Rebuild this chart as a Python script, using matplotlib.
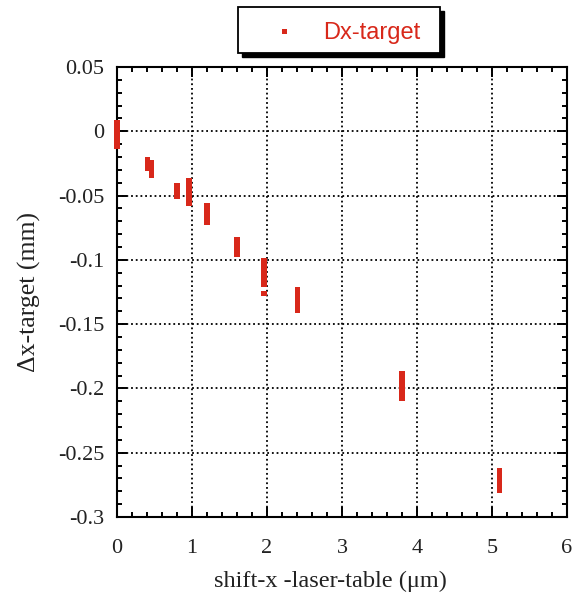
import matplotlib
matplotlib.use("Agg")
import matplotlib.pyplot as plt
from matplotlib.patches import Rectangle
from matplotlib.ticker import MultipleLocator

# Data: each measurement drawn as a vertical bar from y_low to y_high
x_vals = [0.0, 0.405, 0.46, 0.80, 0.96, 1.20, 1.60, 1.96, 1.96, 2.41, 3.80, 5.10]
y_low = [-0.014, -0.031, -0.036, -0.053, -0.058, -0.073, -0.098, -0.121, -0.128, -0.1415, -0.210, -0.2815]
y_high = [0.009, -0.020, -0.0226, -0.040, -0.036, -0.056, -0.082, -0.0988, -0.124, -0.121, -0.1866, -0.262]

x_ticks = [0, 1, 2, 3, 4, 5, 6]
y_ticks = [0.05, 0, -0.05, -0.1, -0.15, -0.2, -0.25, -0.3]
y_tick_labels = ["0.05", "0", "-0.05", "-0.1", "-0.15", "-0.2", "-0.25", "-0.3"]
legend_label = "Dx-target"

red = "#d8281a"
W, H = 576, 599
fig = plt.figure(figsize=(W / 100, H / 100), dpi=100)
ax = fig.add_axes([117 / W, 1 - 517 / H, (567 - 117) / W, (517 - 67) / H])

heights = [h - l for l, h in zip(y_low, y_high)]
ax.bar(x_vals, heights, bottom=y_low, width=0.068, color=red, edgecolor="none", zorder=3, clip_on=False)

ax.set_xlim(0, 6)
ax.set_ylim(-0.3, 0.05)
ax.set_xticks(x_ticks)
ax.set_xticklabels([str(t) for t in x_ticks])
ax.set_yticks(y_ticks)
ax.set_yticklabels(y_tick_labels)
ax.xaxis.set_minor_locator(MultipleLocator(0.2))
ax.yaxis.set_minor_locator(MultipleLocator(0.01))

serif = ["Liberation Serif", "DejaVu Serif"]
ax.tick_params(which="both", direction="in", top=True, right=True, width=1.4, colors="black")
ax.tick_params(which="major", length=7, labelsize=16, pad=9)
ax.tick_params(axis="x", which="major", pad=16)
ax.tick_params(which="minor", length=3.5)
for lab in ax.get_xticklabels() + ax.get_yticklabels():
    lab.set_fontfamily(serif)
    lab.set_color("#222222")
for s in ax.spines.values():
    s.set_linewidth(1.5)

ax.grid(True, which="major", color="black", linestyle=(0, (1, 1.6)), linewidth=1.3, zorder=1)
ax.set_axisbelow(True)

ax.set_xlabel("shift-x -laser-table (\u03bcm)", fontsize=17.5, family=serif, color="#222222", labelpad=9)
ax.xaxis.label.set_x(0.474)
ax.set_ylabel("\u0394x-target (mm)", fontsize=18.5, family=serif, color="#222222", labelpad=12)

# Legend box with hard black shadow
def fx(px):
    return px / W

def fy(py):
    return 1 - py / H

bx0, by0, bx1, by1 = 238, 7, 440, 53
fig.add_artist(Rectangle((fx(bx0 + 4), fy(by1 + 4)), fx(bx1 - bx0), (by1 - by0) / H,
                         transform=fig.transFigure, facecolor="black", edgecolor="black", zorder=5))
fig.add_artist(Rectangle((fx(bx0), fy(by1)), fx(bx1 - bx0), (by1 - by0) / H,
                         transform=fig.transFigure, facecolor="white", edgecolor="black", linewidth=1.3, zorder=6))
fig.add_artist(Rectangle((fx(282), fy(34)), fx(5), 5 / H,
                         transform=fig.transFigure, facecolor=red, edgecolor="none", zorder=7))
fig.text(fx(323), fy(33), legend_label, color=red, fontsize=17, family=["Liberation Sans", "DejaVu Sans"],
         va="center", ha="left", zorder=7)

fig.savefig("out.png", dpi=100)
